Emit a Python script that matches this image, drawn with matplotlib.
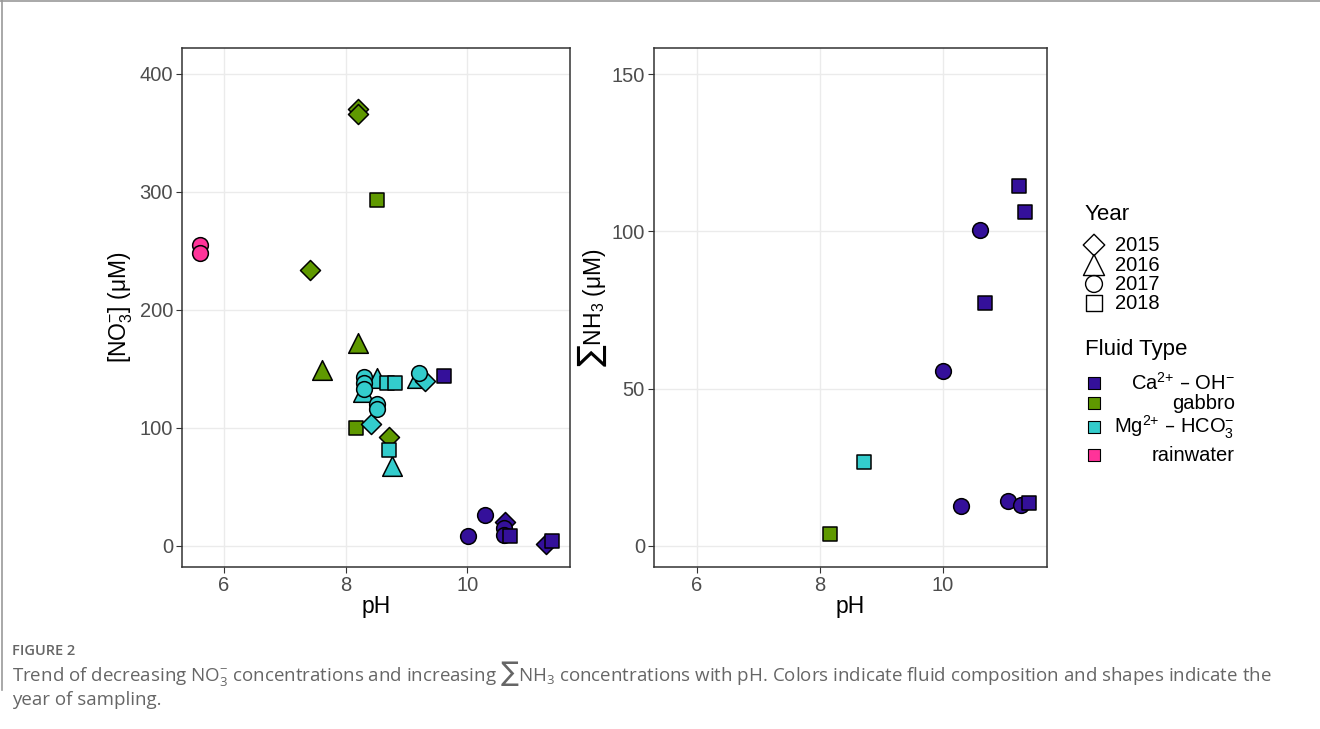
#!/usr/bin/env python3
import matplotlib
matplotlib.use("Agg")
import matplotlib.pyplot as plt  # type: ignore
from matplotlib.lines import Line2D  # type: ignore

plt.rcParams["font.family"] = ["Liberation Sans", "DejaVu Sans"]
plt.rcParams["mathtext.default"] = "regular"

W, H = 1320, 729

# colour per fluid type, marker per sampling year
fluid_types = ["Ca-OH", "gabbro", "Mg-HCO3", "rainwater"]
fluid_labels = ["Ca$^{2{+}}$ \u2013 OH$^{-}$", "gabbro",
                "Mg$^{2{+}}$ \u2013 HCO$_3^{-}$", "rainwater"]
fluid_colors = ["#34109A", "#5F9900", "#33CCCC", "#FF3399"]
years = [2015, 2016, 2017, 2018]

# left panel: nitrate vs pH
no3_ph = [5.61, 5.61,
          8.21, 8.21, 7.41, 8.72, 8.21, 7.62, 8.52, 8.17,
          8.29, 8.52, 9.17, 8.76, 9.30, 8.42, 8.72, 8.68, 8.82,
          8.31, 8.31, 8.31, 9.20, 8.52, 8.52,
          9.62, 10.62, 11.30, 10.30, 10.01, 10.60, 10.60, 10.70, 11.40]
no3_um = [255, 248,
          370, 366, 234, 92, 172, 149, 293, 100,
          130, 142, 142, 68, 140, 103, 81, 138, 138,
          143, 138, 133, 146.6, 120, 116,
          144, 19.8, 1.7, 26, 8.7, 15, 9.3, 8, 3.7]
no3_year = [2017, 2017,
            2015, 2015, 2015, 2015, 2016, 2016, 2018, 2018,
            2016, 2016, 2016, 2016, 2015, 2015, 2018, 2018, 2018,
            2017, 2017, 2017, 2017, 2017, 2017,
            2018, 2015, 2015, 2017, 2017, 2017, 2017, 2018, 2018]
no3_fluid = ["rainwater", "rainwater",
             "gabbro", "gabbro", "gabbro", "gabbro", "gabbro", "gabbro", "gabbro", "gabbro",
             "Mg-HCO3", "Mg-HCO3", "Mg-HCO3", "Mg-HCO3", "Mg-HCO3", "Mg-HCO3",
             "Mg-HCO3", "Mg-HCO3", "Mg-HCO3",
             "Mg-HCO3", "Mg-HCO3", "Mg-HCO3", "Mg-HCO3", "Mg-HCO3", "Mg-HCO3",
             "Ca-OH", "Ca-OH", "Ca-OH", "Ca-OH", "Ca-OH", "Ca-OH", "Ca-OH", "Ca-OH", "Ca-OH"]

# right panel: total ammonia vs pH
nh3_ph = [8.17, 8.72, 10.30, 11.05, 11.27, 11.39, 10.00, 10.69, 10.60, 11.33, 11.23]
nh3_um = [3.8, 26.8, 12.8, 14.3, 13.0, 13.6, 55.7, 77.1, 100.4, 106.2, 114.5]
nh3_year = [2018, 2018, 2017, 2017, 2017, 2018, 2017, 2018, 2017, 2018, 2018]
nh3_fluid = ["gabbro", "Mg-HCO3", "Ca-OH", "Ca-OH", "Ca-OH", "Ca-OH",
             "Ca-OH", "Ca-OH", "Ca-OH", "Ca-OH", "Ca-OH"]

markers = {2015: "D", 2016: "^", 2017: "o", 2018: "s"}
sizes = {2015: 104, 2016: 200, 2017: 128, 2018: 112}
colors = dict(zip(fluid_types, fluid_colors))


def style_axes(ax, yticks, ylim):
    ax.set_xlim(5.31, 11.69)
    ax.set_ylim(*ylim)
    ax.set_xticks([6, 8, 10])
    ax.set_yticks(yticks)
    ax.grid(True, color="#EBEBEB", linewidth=1.0)
    ax.set_axisbelow(True)
    for s in ax.spines.values():
        s.set_color("#333333")
        s.set_linewidth(1.1)
    ax.tick_params(length=4, width=0.8, color="#333333",
                   labelcolor="#4D4D4D", labelsize=14.5, pad=2.5)
    ax.set_xlabel("pH", fontsize=16.5, labelpad=0)


def scatter_points(ax, xs, ys, yrs, fls):
    for i, (x, y, yr, fl) in enumerate(zip(xs, ys, yrs, fls)):
        ax.scatter(x, y, marker=markers[yr], s=sizes[yr], c=colors[fl],
                   edgecolors="black", linewidths=1.1, zorder=3 + i * 0.01)


fig = plt.figure(figsize=(W / 100, H / 100), dpi=100)
bottom, height = 1 - 567 / H, (567 - 48) / H
ax1 = fig.add_axes([182 / W, bottom, (570 - 182) / W, height])
ax2 = fig.add_axes([654 / W, bottom, (1047 - 654) / W, height])

scatter_points(ax1, no3_ph, no3_um, no3_year, no3_fluid)
style_axes(ax1, [0, 100, 200, 300, 400], (-18, 422))
ax1.set_ylabel("[NO$_3^{-}$] (\u03bcM)", fontsize=16.5, labelpad=3)

scatter_points(ax2, nh3_ph, nh3_um, nh3_year, nh3_fluid)
style_axes(ax2, [0, 50, 100, 150], (-6.7, 158.3))
ax2.set_ylabel("\u2211NH$_3$ (\u03bcM)", fontsize=16.5, labelpad=2)

# legend drawn by hand so the fluid labels can be right-aligned like ggplot
leg = fig.add_axes([0, 0, 1, 1])
leg.set_xlim(0, W)
leg.set_ylim(H, 0)
leg.axis("off")
leg.text(1085, 214, "Year", fontsize=16, va="center", ha="left")
for yr, yy in zip(years, [245, 265, 284, 303]):
    leg.scatter(1094, yy, marker=markers[yr], s=sizes[yr] * 1.15,
                facecolors="none", edgecolors="black", linewidths=1.0)
    leg.text(1115, yy, str(yr), fontsize=14.5, va="center", ha="left")
leg.text(1085, 349, "Fluid Type", fontsize=16, va="center", ha="left")
for col, lab, yy in zip(fluid_colors, fluid_labels, [383, 403, 427, 455]):
    leg.scatter(1094, yy, marker="s", s=70, c=col,
                edgecolors="black", linewidths=0.8)
    leg.text(1235, yy, lab, fontsize=14.5, va="center", ha="right")

# figure frame and caption
fig.add_artist(Line2D([0, 1], [1 - 1 / H, 1 - 1 / H], color="#9A9A9A", lw=1.2))
fig.add_artist(Line2D([1.5 / W, 1.5 / W], [1, 1 - 690 / H], color="#9A9A9A", lw=1.2))
cap_font = ["Open Sans", "DejaVu Sans"]
fig.text(12 / W, 1 - 651 / H, "FIGURE 2", family=cap_font, fontsize=10.5,
         weight="semibold", color="#666666", va="center")
fig.text(12 / W, 1 - 674 / H,
         "Trend of decreasing NO$_3^{-}$ concentrations and increasing \u2211NH$_3$ "
         "concentrations with pH. Colors indicate fluid composition and shapes indicate the",
         family=cap_font, fontsize=13.5, color="#666666", va="center")
fig.text(12 / W, 1 - 700 / H, "year of sampling.", family=cap_font,
         fontsize=13.5, color="#666666", va="center")

fig.savefig("out.png", dpi=100)
